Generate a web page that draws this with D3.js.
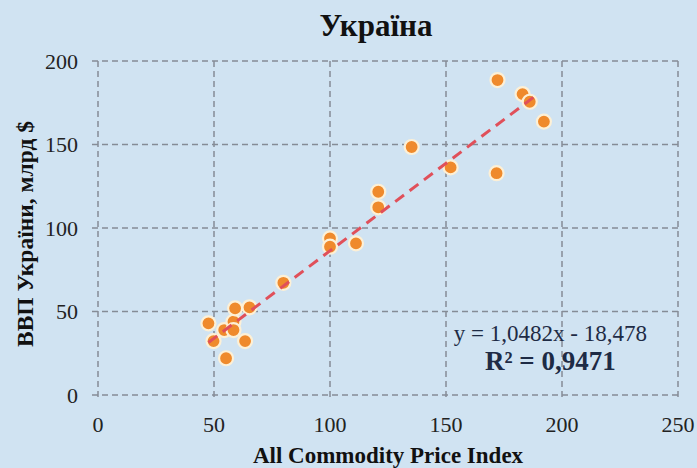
<!DOCTYPE html>
<html>
<head>
<meta charset="utf-8">
<script src="https://cdn.jsdelivr.net/npm/d3@7"></script>
<style>
  body { margin: 0; background: #d0e3f2; }
  svg { display: block; }
</style>
</head>
<body>
<div class="chart"></div>
<script>
// commodity price index (x) vs GDP of Ukraine, bn $ (y)
const priceIndex = [47.6, 49.8, 54.4, 55.2, 58.4, 58.4, 59.1, 63.4, 65.3, 79.9,
  100.0, 100.0, 111.2, 120.8, 120.8, 135.2, 152.0, 171.8, 172.2, 183.0, 186.1, 192.2];
const gdp = [42.9, 32.3, 38.9, 22.0, 43.9, 38.9, 51.9, 32.3, 52.5, 67.2,
  93.8, 88.8, 90.8, 121.7, 112.4, 148.5, 136.3, 132.8, 188.6, 180.2, 175.6, 163.7];
const xTicks = [0, 50, 100, 150, 200, 250];
const yTicks = [0, 50, 100, 150, 200];
const slope = 1.0482, intercept = -18.478;
const trendEnd = 189;
const eqText = "y = 1,0482x - 18,478";
const r2Text = "R² = 0,9471";

const width = 697, height = 468;
const margin = {top: 61, right: 19, bottom: 73, left: 98};
const innerW = width - margin.left - margin.right,
  innerH = height - margin.top - margin.bottom;

const svg = d3.select(".chart")
  .append("svg")
    .attr("width", width)
    .attr("height", height)
    .style("font-family", "'Liberation Serif', 'Times New Roman', serif");

svg.append("rect")
  .attr("width", width)
  .attr("height", height)
  .attr("fill", "#d0e3f2");

const g = svg.append("g")
  .attr("transform", "translate(" + margin.left + "," + margin.top + ")");

const x = d3.scaleLinear().domain([0, 250]).range([0, innerW]);
const y = d3.scaleLinear().domain([0, 200]).range([innerH, 0]);

const gridColor = "#858c96";

// horizontal grid with small outward tick
g.append("g")
  .selectAll("line")
  .data(yTicks)
  .join("line")
    .attr("x1", -6)
    .attr("x2", innerW)
    .attr("y1", d => y(d))
    .attr("y2", d => y(d))
    .attr("stroke", gridColor)
    .attr("stroke-width", 1.5)
    .attr("stroke-dasharray", "6,4");

// vertical grid
g.append("g")
  .selectAll("line")
  .data(xTicks)
  .join("line")
    .attr("x1", d => x(d))
    .attr("x2", d => x(d))
    .attr("y1", 0)
    .attr("y2", innerH + 6)
    .attr("stroke", gridColor)
    .attr("stroke-width", 1.5)
    .attr("stroke-dasharray", "6,4");

// tick labels
g.append("g")
  .selectAll("text")
  .data(yTicks)
  .join("text")
    .attr("x", -20)
    .attr("y", d => y(d))
    .attr("dy", "0.35em")
    .attr("text-anchor", "end")
    .attr("font-size", 22)
    .attr("fill", "#222")
    .text(d => d);

g.append("g")
  .selectAll("text")
  .data(xTicks)
  .join("text")
    .attr("x", d => x(d))
    .attr("y", innerH + 37)
    .attr("text-anchor", "middle")
    .attr("font-size", 22)
    .attr("fill", "#222")
    .text(d => d);

// points
const points = priceIndex.map((v, i) => ({x: v, y: gdp[i]}));

g.append("g")
  .selectAll("circle")
  .data(points)
  .join("circle")
    .attr("cx", d => x(d.x))
    .attr("cy", d => y(d.y))
    .attr("r", 7)
    .attr("fill", "#ef8a2c")
    .attr("stroke", "#fdf0d6")
    .attr("stroke-width", 2.2);

// linear trendline
const xMin = d3.min(priceIndex);
g.append("line")
  .attr("x1", x(xMin))
  .attr("y1", y(slope * xMin + intercept))
  .attr("x2", x(trendEnd))
  .attr("y2", y(slope * trendEnd + intercept))
  .attr("stroke", "#e0505a")
  .attr("stroke-width", 3)
  .attr("stroke-dasharray", "11,7");

// equation
g.append("text")
  .attr("x", x(195))
  .attr("y", 341 - margin.top)
  .attr("text-anchor", "middle")
  .attr("font-size", 23)
  .attr("fill", "#1e2b45")
  .text(eqText);

g.append("text")
  .attr("x", x(195))
  .attr("y", 370 - margin.top)
  .attr("text-anchor", "middle")
  .attr("font-size", 27)
  .attr("font-weight", "bold")
  .attr("fill", "#1e2b45")
  .text(r2Text);

// title
svg.append("text")
  .attr("x", 376)
  .attr("y", 36)
  .attr("text-anchor", "middle")
  .attr("font-size", 31)
  .attr("font-weight", "bold")
  .attr("fill", "#111")
  .text("Україна");

// axis titles
svg.append("text")
  .attr("x", 388)
  .attr("y", 463)
  .attr("text-anchor", "middle")
  .attr("font-size", 23)
  .attr("font-weight", "bold")
  .attr("fill", "#111")
  .text("All Commodity Price Index");

svg.append("text")
  .attr("transform", "translate(33,234) rotate(-90)")
  .attr("text-anchor", "middle")
  .attr("font-size", 23.5)
  .attr("font-weight", "bold")
  .attr("fill", "#111")
  .text("ВВП України, млрд $");
</script>
</body>
</html>
